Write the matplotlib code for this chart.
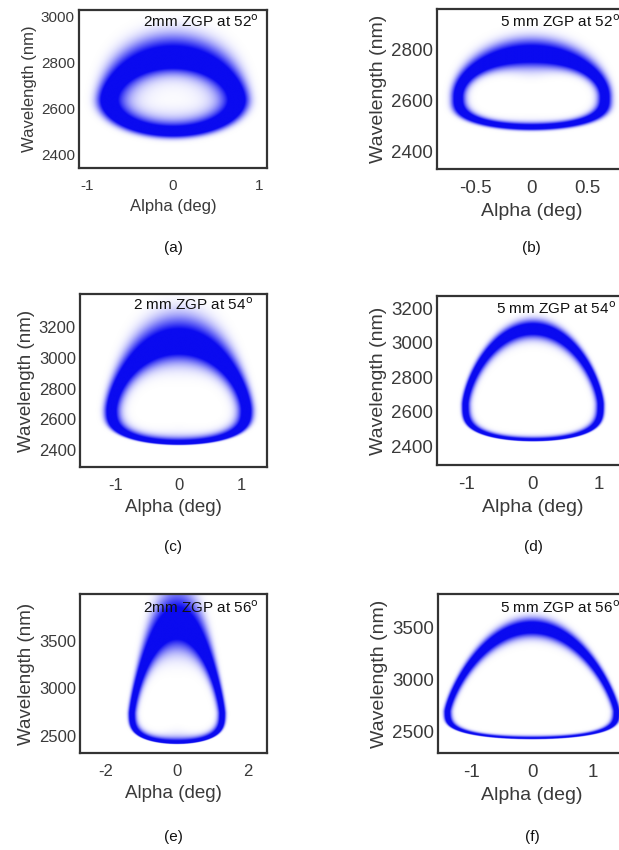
import numpy as np
import matplotlib
matplotlib.use('Agg')
import matplotlib.pyplot as plt
from matplotlib.colors import LinearSegmentedColormap

plt.rcParams['font.family'] = ['Liberation Sans', 'DejaVu Sans']
plt.rcParams['axes.unicode_minus'] = False

# panel text
titles = ['2mm ZGP at 52$^{\\rm o}$', '5 mm ZGP at 52$^{\\rm o}$',
          '2 mm ZGP at 54$^{\\rm o}$', '5 mm ZGP at 54$^{\\rm o}$',
          '2mm ZGP at 56$^{\\rm o}$', '5 mm ZGP at 56$^{\\rm o}$']
captions = ['(a)', '(b)', '(c)', '(d)', '(e)', '(f)']

# axis ranges and ticks
xlims = [(-1.09, 1.09), (-0.85, 0.85), (-1.57, 1.4), (-1.45, 1.45), (-2.73, 2.53), (-1.55, 1.55)]
ylims = [(2343, 3030), (2333, 2960), (2290, 3414), (2290, 3270), (2320, 3995), (2290, 3817)]
xticks = [[-1, 0, 1], [-0.5, 0, 0.5], [-1, 0, 1], [-1, 0, 1], [-2, 0, 2], [-1, 0, 1]]
xticklabels = [['-1', '0', '1'], ['-0.5', '0', '0.5'], ['-1', '0', '1'],
               ['-1', '0', '1'], ['-2', '0', '2'], ['-1', '0', '1']]
yticks = [[2400, 2600, 2800, 3000], [2400, 2600, 2800], [2400, 2600, 2800, 3000, 3200],
          [2400, 2600, 2800, 3000, 3200], [2500, 3000, 3500], [2500, 3000, 3500]]

# phase-matching loop (centre line), nm / deg
lam_bottom = [2498, 2497, 2440, 2430, 2418, 2425]
lam_widest = [2640, 2615, 2660, 2640, 2740, 2690]
lam_top = [2805, 2778, 3085, 3075, 3650, 3495]
alpha_half = [0.76, 0.66, 1.08, 1.03, 1.28, 1.40]
bottom_shape = [2.0, 3.0, 3.0, 3.5, 3.5, 3.5]
top_shape = [1.8, 2.0, 1.6, 1.5, 1.3, 1.3]

# distance from the centre line to where the blue fades out
fade_bottom_out = [40, 20, 11, 6, 6, 5]          # nm, below the loop
fade_bottom_in = [110, 35, 90, 40, 170, 50]      # nm, into the loop
fade_side_out = [0.2, 0.10, 0.17, 0.08, 0.15, 0.09]   # deg
fade_side_in = [0.45, 0.11, 0.25, 0.13, 0.22, 0.12]   # deg
fade_top_out = [170, 100, 280, 85, 600, 150]     # nm, above the loop
fade_top_in = [100, 110, 200, 90, 410, 150]      # nm, into the loop

# layout in pixels of the 619x850 picture
boxes = [(79, 10, 267, 168), (437, 9, 626, 169), (80, 294, 267, 467),
         (437, 296, 629, 465), (80, 594, 267, 753), (438, 594, 626, 753)]
title_pos = [(0.34, 0.926), (0.333, 0.92), (0.283, 0.936), (0.307, 0.927), (0.337, 0.912), (0.33, 0.914)]
caption_y = [248, 248, 547, 547, 837, 837]
tick_fs = [11, 13.5, 12, 13.5, 12, 13.5]
label_fs = [12, 14, 13.5, 14, 13.5, 14]

W, H = 619, 850
EDGE = 1.73   # exp(-D^2) ~ 0.05 at the visible edge
fig = plt.figure(figsize=(W / 100, H / 100), dpi=100)
cmap = LinearSegmentedColormap.from_list('wb', ['#ffffff', '#8080f8', '#0a0af0'])


def sharpness(i):
    sb = lam_widest[i] - lam_bottom[i]
    st = lam_top[i] - lam_widest[i]
    A = alpha_half[i]
    mb, mt = bottom_shape[i], top_shape[i]
    kb_out = EDGE / ((1 + fade_bottom_out[i] / sb) ** mb - 1)
    kb_in = EDGE / (1 - max(1 - fade_bottom_in[i] / sb, 0) ** mb)
    ks_out = EDGE / (((A + fade_side_out[i]) / A) ** 2 - 1)
    ks_in = EDGE / (1 - ((A - fade_side_in[i]) / A) ** 2)
    kt_out = EDGE / ((1 + fade_top_out[i] / st) ** mt - 1)
    kt_in = EDGE / (1 - max(1 - fade_top_in[i] / st, 0) ** mt)
    return (kb_out, ks_out, kt_out), (kb_in, ks_in, kt_in)


def loop_intensity(i, a, lam):
    sb = lam_widest[i] - lam_bottom[i]
    st = lam_top[i] - lam_widest[i]
    p = a / alpha_half[i]
    q = np.where(lam > lam_widest[i], (lam - lam_widest[i]) / st, (lam - lam_widest[i]) / sb)
    tb = np.clip(-q, 0, None)
    tt = np.clip(q, 0, None)
    f = np.where(q < 0, 1 - tb ** bottom_shape[i], 1 - tt ** top_shape[i])
    x = p ** 2 - f
    # sharpness follows the position round the loop
    w = q ** 2 / (p ** 2 + q ** 2 + 0.05)
    k_out, k_in = np.log(sharpness(i))
    ko = np.exp((1 - w) * k_out[1] + w * np.where(q < 0, k_out[0], k_out[2]))
    ki = np.exp((1 - w) * k_in[1] + w * np.where(q < 0, k_in[0], k_in[2]))
    d = np.where(x > 0, ko * x, ki * x)
    return np.exp(-d ** 2)


for i in range(6):
    x0, y0, x1, y1 = boxes[i]
    ax = fig.add_axes([x0 / W, 1 - y1 / H, (x1 - x0) / W, (y1 - y0) / H])
    a = np.linspace(xlims[i][0], xlims[i][1], 600)
    lam = np.linspace(ylims[i][0], ylims[i][1], 600)
    AA, LL = np.meshgrid(a, lam)
    img = loop_intensity(i, AA, LL)
    ax.imshow(img, extent=[xlims[i][0], xlims[i][1], ylims[i][0], ylims[i][1]],
              origin='lower', aspect='auto', cmap=cmap, vmin=0, vmax=0.7,
              interpolation='bilinear')
    ax.set_xlim(xlims[i])
    ax.set_ylim(ylims[i])
    ax.set_xticks(xticks[i])
    ax.set_xticklabels(xticklabels[i])
    ax.set_yticks(yticks[i])
    ax.tick_params(length=0, labelsize=tick_fs[i], colors='#3a3a3a', pad=3)
    ax.tick_params(axis='x', pad=8)
    for s in ax.spines.values():
        s.set_color('#333333')
        s.set_linewidth(1.6)
    ax.set_xlabel('Alpha (deg)', fontsize=label_fs[i], color='#3a3a3a', labelpad=4)
    ax.set_ylabel('Wavelength (nm)', fontsize=label_fs[i], color='#3a3a3a', labelpad=3)
    ax.text(title_pos[i][0], title_pos[i][1], titles[i], transform=ax.transAxes,
            fontsize=11, ha='left', va='center', color='#111111')
    cx = (x0 + x1) / 2 if i % 2 == 0 else x0 + (0 - xlims[i][0]) / (xlims[i][1] - xlims[i][0]) * (x1 - x0)
    fig.text(cx / W, 1 - caption_y[i] / H, captions[i], fontsize=11, ha='center', va='center',
             color='#111111')

fig.savefig('out.png', dpi=100)
